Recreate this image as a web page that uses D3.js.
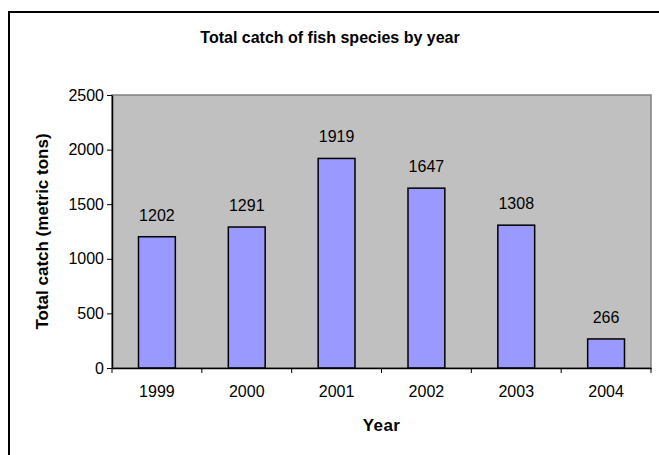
<!DOCTYPE html>
<html>
<head>
<meta charset="utf-8">
<script src="https://cdn.jsdelivr.net/npm/d3@7"></script>
<style>
  body { margin: 0; background: #fff; }
  svg { display: block; font-family: "Liberation Sans", Arial, sans-serif; }
</style>
</head>
<body>
<svg id="chart" width="659" height="455"></svg>
<script>
var years = ['1999', '2000', '2001', '2002', '2003', '2004'];
var catches = [1202, 1291, 1919, 1647, 1308, 266];
var yTicks = [0, 500, 1000, 1500, 2000, 2500];

var margin = { top: 95, left: 112, bottom: 87, right: 8 };
var svg = d3.select('#chart');
var width = 659 - margin.left - margin.right;
var height = 455 - margin.top - margin.bottom;

// outer frame
svg.append('rect')
	.attr('x', 9).attr('y', 12)
	.attr('width', 700).attr('height', 500)
	.style('fill', 'none')
	.style('stroke', '#000')
	.style('stroke-width', 2);

svg.append('text')
	.attr('x', 330).attr('y', 43)
	.attr('text-anchor', 'middle')
	.style('font-size', '16px')
	.style('font-weight', 'bold')
	.text('Total catch of fish species by year');

var x = d3.scaleBand().domain(years).range([0, width]).paddingInner(0.59).paddingOuter(0.295);
var xTick = d3.scaleBand().domain(years).range([0, width]);
var y = d3.scaleLinear().domain([0, 2500]).range([height, 0]);

var g = svg.append('g').attr('transform', 'translate(' + [margin.left, margin.top] + ')');

g.append('rect')
	.attr('width', width).attr('height', height)
	.style('fill', '#c0c0c0')
	.style('stroke', '#808080')
	.style('stroke-width', 1.5);

g.selectAll('.bar')
	.data(catches)
	.enter().append('rect')
	.attr('class', 'bar')
	.attr('x', function(d, i) { return x(years[i]); })
	.attr('y', function(d) { return y(d); })
	.attr('width', x.bandwidth())
	.attr('height', function(d) { return height - y(d); })
	.style('fill', '#9999ff')
	.style('stroke', '#000')
	.style('stroke-width', 1.5);

g.selectAll('.label')
	.data(catches)
	.enter().append('text')
	.attr('class', 'label')
	.attr('x', function(d, i) { return x(years[i]) + x.bandwidth() / 2; })
	.attr('y', function(d) { return y(d) - 16; })
	.attr('text-anchor', 'middle')
	.style('font-size', '16px')
	.text(function(d) { return d; });

// axes
var yAxis = g.append('g')
	.call(d3.axisLeft(y).tickValues(yTicks).tickFormat(d3.format('d')).tickSize(5).tickSizeOuter(0).tickPadding(3));
var xAxis = g.append('g')
	.attr('transform', 'translate(0,' + height + ')')
	.call(d3.axisBottom(xTick).tickSize(0).tickPadding(18));
xAxis.selectAll('.tick').append('line')
	.attr('x1', -xTick.bandwidth() / 2).attr('x2', -xTick.bandwidth() / 2)
	.attr('y1', 0).attr('y2', 5)
	.style('stroke', '#000');
xAxis.append('line')
	.attr('x1', width).attr('x2', width)
	.attr('y1', 0).attr('y2', 5)
	.style('stroke', '#000');

[yAxis, xAxis].forEach(function(a) {
	a.select('.domain').style('stroke', '#000').style('stroke-width', 1.5);
	a.selectAll('text').style('font-size', '16px').style('font-family', '"Liberation Sans", Arial, sans-serif').style('fill', '#000');
});

svg.append('text')
	.attr('x', margin.left + width / 2).attr('y', 431)
	.attr('text-anchor', 'middle')
	.style('font-size', '17px')
	.style('font-weight', 'bold')
	.style('letter-spacing', '0.4px')
	.text('Year');

svg.append('text')
	.attr('transform', 'translate(48,' + (margin.top + height / 2) + ') rotate(-90)')
	.attr('text-anchor', 'middle')
	.style('font-size', '17px')
	.style('font-weight', 'bold')
	.text('Total catch (metric tons)');
</script>
</body>
</html>
